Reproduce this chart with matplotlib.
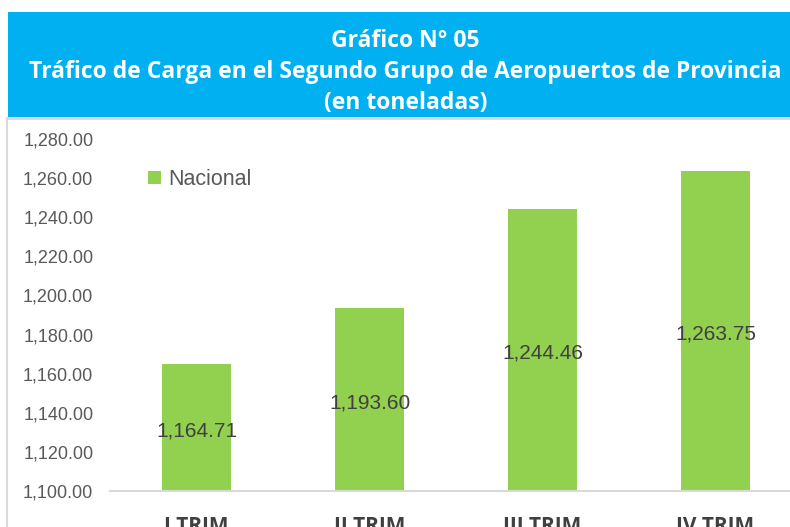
import matplotlib
matplotlib.use("Agg")
import matplotlib.pyplot as plt
from matplotlib.patches import Rectangle
from matplotlib.lines import Line2D
import numpy as np

categories = ["I TRIM", "II TRIM", "III TRIM", "IV TRIM"]
values = [1164.71, 1193.60, 1244.46, 1263.75]
series_name = "Nacional"
title_lines = ["Gráfico N° 05",
               "Tráfico de Carga en el Segundo Grupo de Aeropuertos de Provincia",
               "(en toneladas)"]
yticks = [1100, 1120, 1140, 1160, 1180, 1200, 1220, 1240, 1260, 1280]

W, H = 790, 527
fig = plt.figure(figsize=(W / 100, H / 100), dpi=100)
fig.patch.set_facecolor("white")

def fx(px):
    return px / W

def fy(py):
    return 1 - py / H

# panel border
fig.add_artist(Line2D([fx(6.5), fx(6.5)], [fy(118), fy(530)], color="#D9D9D9", lw=1.5,
                      transform=fig.transFigure))
fig.add_artist(Line2D([fx(6.5), fx(800)], [fy(118), fy(118)], color="#D9D9D9", lw=2,
                      transform=fig.transFigure))
# blue title band
fig.add_artist(Rectangle((fx(8), fy(117)), fx(800) - fx(8), (117 - 12) / H,
                         transform=fig.transFigure, facecolor="#00B0F0", edgecolor="none"))
title_font = "Open Sans"
for i, (t, yc) in enumerate(zip(title_lines, [41, 72.5, 103.5])):
    fig.text(fx(405.5), fy(yc), t, ha="center", va="center", color="white",
             fontsize=16.5, fontweight="bold", family=title_font)

ax = fig.add_axes([fx(110), fy(491), (802 - 110) / W, (491 - 139) / H])
ax.set_facecolor("none")
x = np.arange(len(categories))
bars = ax.bar(x, values, width=0.4, color="#92D050", label=series_name, zorder=2)
ax.set_xlim(-0.5, len(categories) - 0.5)
ax.set_ylim(1100, 1280)
ax.set_yticks(yticks)
ax.set_yticklabels([f"{v:,.2f}" for v in yticks], family="Liberation Sans",
                   fontsize=13, color="#595959")
ax.set_xticks(x)
ax.set_xticklabels(categories, family=title_font, fontweight="bold", fontsize=15,
                   color="#404040")
ax.tick_params(axis="y", length=0, pad=12)
ax.tick_params(axis="x", length=0, pad=18)
for s in ["top", "right", "left"]:
    ax.spines[s].set_visible(False)
ax.spines["bottom"].set_color("#D9D9D9")
ax.spines["bottom"].set_linewidth(1.5)
ax.spines["bottom"].set_zorder(3)

anns = ax.bar_label(bars, labels=[f"{v:,.2f}" for v in values], label_type="center",
                    family="Liberation Sans", fontsize=15, color="#404040")
for a in anns:
    a.xyann = (0, -2.5)

leg = ax.legend(loc="center left", bbox_to_anchor=(fx(148), fy(179.5)),
                bbox_transform=fig.transFigure, frameon=False, borderpad=0,
                borderaxespad=0, handlelength=0.6, handleheight=0.6,
                handletextpad=0.35, prop={"family": "Liberation Sans", "size": 15.5})
for t in leg.get_texts():
    t.set_color("#595959")

fig.savefig("out.png", dpi=100)
